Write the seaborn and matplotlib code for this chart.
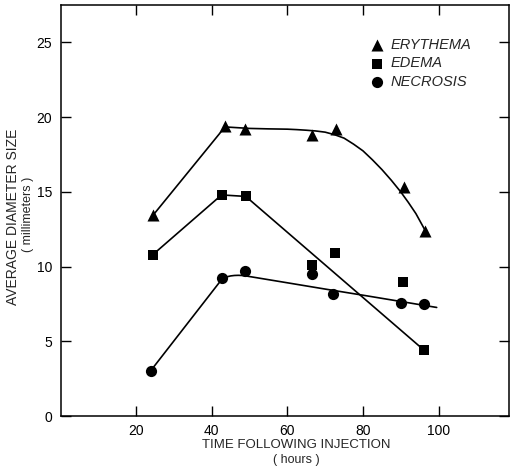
import pandas as pd
import matplotlib.pyplot as plt
import seaborn as sns

# measured points (hours, mm)
ery_x = [24.5, 43.5, 48.8, 66.5, 72.9, 90.9, 96.4]
ery_y = [13.45, 19.4, 19.2, 18.8, 19.2, 15.3, 12.4]
ede_x = [24.4, 42.6, 49.0, 66.5, 72.6, 90.5, 96.2]
ede_y = [10.8, 14.8, 14.7, 10.1, 10.9, 9.0, 4.4]
nec_x = [23.9, 42.8, 48.8, 66.5, 72.0, 90.1, 96.2]
nec_y = [3.05, 9.25, 9.7, 9.5, 8.2, 7.6, 7.5]

# hand-drawn fit lines
ery_fit_x = [24.5, 43.5, 50, 55, 60, 62.5, 65, 67.5, 70, 72.5, 75, 77.5,
             80, 82.5, 85, 87.5, 90, 92, 94, 96.5]
ery_fit_y = [13.45, 19.35, 19.25, 19.22, 19.2, 19.17, 19.13, 19.08, 19.0, 18.83,
             18.6, 18.2, 17.75, 17.15, 16.5, 15.78, 15.0, 14.3, 13.55, 12.4]
ede_fit_x = [24.4, 42.6, 49.0, 96.2]
ede_fit_y = [10.8, 14.8, 14.7, 4.4]
nec_fit_x = [23.9, 42.8, 44, 45, 46, 47, 48, 49, 60, 70, 80, 90, 99.5]
nec_fit_y = [3.05, 9.2, 9.32, 9.38, 9.41, 9.42, 9.41, 9.38, 8.92, 8.5, 8.09, 7.67, 7.27]

x_ticks = [20, 40, 60, 80, 100]
y_ticks = [0, 5, 10, 15, 20, 25]

sns.set_style('white')
plt.rcParams['font.family'] = ['Liberation Sans', 'DejaVu Sans']

fig = plt.figure(figsize=(5.13, 4.67), dpi=100)
ax = fig.add_axes([0.118, 0.109, 0.874, 0.880])

for fx, fy in [(ery_fit_x, ery_fit_y), (ede_fit_x, ede_fit_y), (nec_fit_x, nec_fit_y)]:
    sns.lineplot(x=fx, y=fy, color='black', linewidth=1.2, sort=False,
                 estimator=None, ax=ax)

series = [
    ('ERYTHEMA', ery_x, ery_y, '^', 75),
    ('EDEMA', ede_x, ede_y, 's', 45),
    ('NECROSIS', nec_x, nec_y, 'o', 65),
]
for name, xs, ys, mk, size in series:
    df = pd.DataFrame({'hours': xs, 'mm': ys})
    sns.scatterplot(data=df, x='hours', y='mm', marker=mk, s=size, color='black',
                    edgecolor='black', linewidth=0, label=name, ax=ax, zorder=3)

ax.set_xlim(0, 118.6)
ax.set_ylim(0, 27.5)
ax.set_xticks(x_ticks)
ax.set_yticks(y_ticks)
ax.tick_params(direction='in', length=7, width=1, bottom=True, left=True,
               top=True, right=True, labelsize=10, pad=6, colors='black')
for s in ax.spines.values():
    s.set_linewidth(1.1)
    s.set_color('black')

ax.set_xlabel('')
ax.set_ylabel('')
fig.text(0.577, 0.047, 'TIME FOLLOWING INJECTION', ha='center', va='center', fontsize=9.5)
fig.text(0.577, 0.015, '( hours )', ha='center', va='center', fontsize=9)
fig.text(0.025, 0.535, 'AVERAGE DIAMETER SIZE', ha='center', va='center',
         rotation=90, fontsize=10)
fig.text(0.055, 0.54, '( millimeters )', ha='center', va='center',
         rotation=90, fontsize=9)

ax.legend(loc='upper left', bbox_to_anchor=(0.657, 0.953), frameon=False,
          handletextpad=0.3, labelspacing=0.33, handlelength=1.2,
          prop={'style': 'italic', 'size': 10.5})

fig.savefig('out.png', dpi=100)
